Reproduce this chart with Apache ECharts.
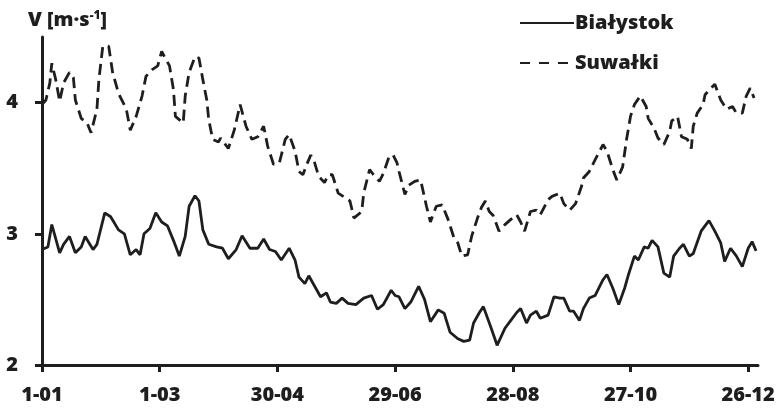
<!DOCTYPE html>
<html>
<head>
<meta charset="utf-8">
<script src="https://cdn.jsdelivr.net/npm/echarts@6/dist/echarts.min.js"></script>
<style>
  html, body { margin: 0; padding: 0; background: #fff; }
  #chart { width: 781px; height: 411px; }
</style>
</head>
<body>
<div id="chart"></div>
<script>
// tick labels on the day axis (one every 60 days)
var xTickLabels = ['1-01', '1-03', '30-04', '29-06', '28-08', '27-10', '26-12'];
var xTickDays = [0, 60, 120, 180, 240, 300, 360];
var yTicks = [2, 3, 4];

// Białystok, day of year (0 = 1 Jan) and wind speed
var bialystokDays = [0, 3, 5, 9, 11, 14, 17, 20, 22, 26, 28, 32, 35, 39, 42, 45, 48, 50, 52, 55,
  58, 61, 64, 67, 70, 73, 75, 78, 80, 82, 85, 89, 92, 95, 99, 102, 106, 110, 113, 116,
  119, 122, 126, 129, 131, 134, 136, 139, 140, 142, 145, 147, 150, 153, 156, 160, 164, 168, 171, 174,
  178, 180, 182, 185, 188, 192, 195, 198, 202, 205, 208, 212, 215, 218, 220, 223, 225, 229, 232, 236,
  239, 242, 244, 247, 249, 252, 254, 258, 261, 264, 266, 269, 271, 274, 276, 279, 282, 286, 288, 291,
  294, 297, 299, 302, 304, 307, 309, 311, 314, 317, 320, 322, 325, 327, 330, 332, 336, 337, 340, 343,
  346, 348, 351, 354, 357, 360, 362, 364];
var bialystokValues = [2.88, 2.90, 3.07, 2.855, 2.92, 2.98, 2.855, 2.90, 2.98, 2.88, 2.92, 3.16, 3.13, 3.03, 3.00, 2.84, 2.88, 2.84, 3.00, 3.04,
  3.16, 3.09, 3.06, 2.95, 2.83, 2.98, 3.21, 3.29, 3.25, 3.03, 2.92, 2.90, 2.89, 2.81, 2.88, 2.985, 2.89, 2.89, 2.96, 2.88,
  2.865, 2.80, 2.89, 2.80, 2.67, 2.62, 2.68, 2.60, 2.61, 2.52, 2.55, 2.48, 2.47, 2.51, 2.47, 2.46, 2.51, 2.53, 2.425, 2.46,
  2.57, 2.53, 2.52, 2.43, 2.48, 2.60, 2.50, 2.33, 2.42, 2.395, 2.25, 2.20, 2.18, 2.19, 2.32, 2.40, 2.445, 2.28, 2.15, 2.28,
  2.34, 2.40, 2.43, 2.32, 2.38, 2.41, 2.356, 2.38, 2.52, 2.51, 2.51, 2.41, 2.41, 2.34, 2.43, 2.51, 2.53, 2.65, 2.69, 2.585,
  2.46, 2.585, 2.69, 2.83, 2.80, 2.90, 2.89, 2.95, 2.90, 2.70, 2.67, 2.83, 2.89, 2.92, 2.83, 2.85, 3.02, 3.005, 3.10, 3.02,
  2.93, 2.79, 2.89, 2.83, 2.75, 2.89, 2.94, 2.87];

// Suwałki
var suwalkiDays = [0, 2, 4, 5, 7, 9, 11, 14, 16, 17, 20, 23, 25, 28, 29, 31, 34, 36, 39, 43,
  45, 48, 51, 53, 56, 59, 61, 65, 67, 68, 72, 73, 75, 78, 80, 82, 84, 85, 87, 90,
  91, 95, 98, 101, 104, 107, 110, 113, 115, 118, 121, 124, 126, 129, 131, 133, 135, 137, 139, 141,
  144, 146, 148, 151, 155, 157, 159, 163, 164, 167, 169, 172, 174, 177, 179, 181, 182, 185, 187, 190,
  193, 196, 198, 201, 204, 207, 210, 212, 214, 217, 219, 222, 224, 226, 228, 230, 233, 236, 239, 242,
  244, 246, 249, 252, 254, 258, 260, 264, 266, 269, 272, 275, 276, 279, 282, 286, 288, 291, 293, 296,
  298, 300, 302, 305, 308, 309, 312, 314, 317, 320, 321, 324, 326, 329, 331, 332, 334, 337, 338, 341,
  343, 346, 349, 352, 354, 357, 359, 361, 363];
var suwalkiValues = [3.985, 4.02, 4.15, 4.30, 4.175, 4.01, 4.15, 4.23, 4.19, 4.02, 3.88, 3.845, 3.77, 3.95, 4.175, 4.43, 4.43, 4.23, 4.07, 3.95,
  3.79, 3.895, 4.05, 4.20, 4.25, 4.28, 4.39, 4.28, 4.10, 3.895, 3.845, 4.05, 4.23, 4.35, 4.34, 4.175, 4.02, 3.87, 3.72, 3.70,
  3.73, 3.65, 3.79, 3.985, 3.82, 3.72, 3.74, 3.82, 3.67, 3.53, 3.54, 3.72, 3.756, 3.63, 3.475, 3.45, 3.53, 3.60, 3.54, 3.44,
  3.39, 3.45, 3.45, 3.31, 3.27, 3.25, 3.12, 3.17, 3.31, 3.49, 3.45, 3.40, 3.46, 3.59, 3.60, 3.54, 3.475, 3.30, 3.37, 3.40,
  3.41, 3.21, 3.09, 3.21, 3.22, 3.11, 2.97, 2.93, 2.83, 2.84, 2.98, 3.12, 3.20, 3.25, 3.17, 3.14, 3.02, 3.07, 3.11, 3.145,
  3.09, 3.02, 3.17, 3.18, 3.145, 3.26, 3.285, 3.31, 3.23, 3.18, 3.23, 3.36, 3.425, 3.475, 3.565, 3.68, 3.63, 3.49, 3.41, 3.51,
  3.72, 3.895, 3.985, 4.05, 3.97, 3.88, 3.805, 3.73, 3.68, 3.78, 3.86, 3.895, 3.74, 3.72, 3.65, 3.82, 3.92, 3.985, 4.06, 4.11,
  4.14, 4.02, 3.95, 3.97, 3.92, 3.92, 4.05, 4.11, 4.035];

function pairs(days, values) {
  return days.map(function (d, i) { return [d, values[i]]; });
}

var ink = '#1e1e1e';
var font = '"Open Sans", "DejaVu Sans", sans-serif';
var weight = 800;

var myChart = echarts.init(document.getElementById('chart'), null, {renderer: 'canvas'});
myChart.setOption({
  animation: false,
  backgroundColor: '#fff',
  textStyle: {fontFamily: font},
  title: {
    text: 'V [m·s{sup|-1}]',
    left: 23,
    top: 5,
    textStyle: {
      fontFamily: font,
      fontSize: 20,
      fontWeight: weight,
      color: ink,
      rich: {
        sup: {fontFamily: font, fontSize: 12, fontWeight: weight, color: ink, verticalAlign: 'top', padding: [0, 0, 8, 0]}
      }
    }
  },
  legend: {
    orient: 'vertical',
    left: 514,
    top: 8,
    itemWidth: 54,
    itemHeight: 14,
    itemGap: 20,
    itemStyle: {opacity: 0},
    textStyle: {fontFamily: font, fontSize: 20, fontWeight: weight, color: ink, padding: [0, 0, 0, -4]},
    data: [
      {name: 'Białystok'},
      {name: 'Suwałki', lineStyle: {type: [10, 9]}}
    ]
  },
  grid: {left: 42, right: 23, top: 37, bottom: 46},
  xAxis: {
    type: 'value',
    min: 0,
    max: 365,
    interval: 60,
    splitLine: {show: false},
    axisLine: {lineStyle: {color: ink, width: 3}},
    axisTick: {customValues: xTickDays, length: 7, lineStyle: {color: ink, width: 3}},
    axisLabel: {
      customValues: xTickDays,
      margin: 20,
      fontFamily: font, fontSize: 20, fontWeight: weight, color: ink,
      formatter: function (v) { return xTickLabels[Math.round(v / 60)]; }
    }
  },
  yAxis: {
    type: 'value',
    min: 2,
    max: 4.5,
    interval: 1,
    splitLine: {show: false},
    axisLine: {show: true, lineStyle: {color: ink, width: 3}},
    axisTick: {show: true, customValues: yTicks, length: 7, lineStyle: {color: ink, width: 3}},
    axisLabel: {customValues: yTicks, margin: 24, fontFamily: font, fontSize: 20, fontWeight: weight, color: ink}
  },
  series: [
    {
      name: 'Białystok',
      type: 'line',
      symbol: 'none',
      data: pairs(bialystokDays, bialystokValues),
      lineStyle: {color: ink, width: 2.8},
      itemStyle: {color: ink}
    },
    {
      name: 'Suwałki',
      type: 'line',
      symbol: 'none',
      data: pairs(suwalkiDays, suwalkiValues),
      lineStyle: {color: ink, width: 2.8, type: [11, 6]},
      itemStyle: {color: ink}
    }
  ]
});
</script>
</body>
</html>
